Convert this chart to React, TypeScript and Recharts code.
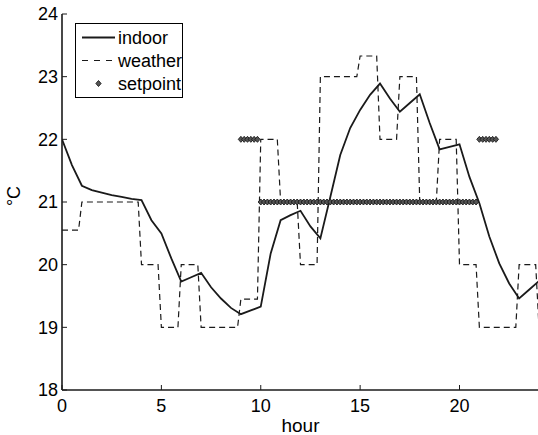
import {
  ComposedChart,
  Line,
  Scatter,
  XAxis,
  YAxis,
  Legend,
} from 'recharts';

// indoor temperature, read every half hour
const indoorHours = [
  0, 0.5, 1, 1.5, 2, 2.5, 3, 3.5, 4, 4.5, 5, 5.5, 6, 6.5, 7, 7.5, 8, 8.5, 9,
  9.5, 10, 10.5, 11, 11.5, 12, 12.5, 13, 13.5, 14, 14.5, 15, 15.5, 16, 16.5,
  17, 17.5, 18, 18.5, 19, 19.5, 20, 20.5, 21, 21.5, 22, 22.5, 23, 23.5, 24,
];
const indoorTemp = [
  22.0, 21.59, 21.26, 21.19, 21.15, 21.11, 21.08, 21.05, 21.03, 20.71, 20.5,
  20.1, 19.73, 19.8, 19.87, 19.64, 19.46, 19.31, 19.21, 19.27, 19.33, 20.18,
  20.71, 20.79, 20.86, 20.61, 20.42, 21.08, 21.75, 22.18, 22.47, 22.71, 22.89,
  22.65, 22.44, 22.58, 22.72, 22.26, 21.84, 21.88, 21.92, 21.4, 20.98, 20.45,
  20.02, 19.7, 19.46, 19.6, 19.74,
];

// weather forecast, one value per hour (0..23) and the value at 24
const weatherHourly = [
  20.55, 21, 21, 21, 20, 19, 20, 19, 19, 19.45, 22, 21, 20, 23, 23, 23.33, 22,
  23, 21, 22, 20, 19, 19, 20,
];
const weatherEnd = 19;

// setpoint per hour (null = no setpoint)
const setpointHourly: (number | null)[] = [
  null, null, null, null, null, null, null, null, null, 22, 21, 21, 21, 21, 21,
  21, 21, 21, 21, 21, 21, 22, null, null,
];

const xTicks = [0, 5, 10, 15, 20];
const yTicks = [18, 19, 20, 21, 22, 23, 24];

// samples are taken every 10 minutes
const SAMPLES = 6;

const indoorData = indoorHours.map((t, i) => ({ t, v: indoorTemp[i] }));

const weatherData = [
  ...weatherHourly.flatMap((v, h) => [
    { t: h, v },
    { t: h + (SAMPLES - 1) / SAMPLES, v },
  ]),
  { t: 24, v: weatherEnd },
];

const setpointData = setpointHourly.flatMap((v, h) =>
  v === null
    ? []
    : Array.from({ length: SAMPLES }, (_, j) => ({ t: h + j / SAMPLES, v }))
);

const FONT = '"Liberation Sans", Arial, Helvetica, sans-serif';
const INK = '#1a1a1a';

const Diamond = (props: any) => {
  const { cx, cy } = props;
  return (
    <polygon
      points={`${cx},${cy - 3} ${cx + 2.6},${cy} ${cx},${cy + 3} ${cx - 2.6},${cy}`}
      fill='#555'
      stroke='#1a1a1a'
      strokeWidth={0.9}
    />
  );
};

const legendItems = [
  { name: 'indoor', kind: 'solid' },
  { name: 'weather', kind: 'dashed' },
  { name: 'setpoint', kind: 'diamond' },
];

const LegendBox = () => (
  <div
    style={{
      border: '1px solid #000',
      background: '#fff',
      width: 108,
      height: 75,
      paddingTop: 2,
      boxSizing: 'border-box',
      fontFamily: FONT,
      fontSize: 18,
      color: '#000',
    }}
  >
    {legendItems.map((item) => (
      <div
        key={item.name}
        style={{ display: 'flex', alignItems: 'center', height: 23 }}
      >
        <svg width={42} height={23} style={{ flex: 'none' }}>
          {item.kind === 'solid' && (
            <line x1={6} x2={39} y1={11.5} y2={11.5} stroke={INK} strokeWidth={1.8} />
          )}
          {item.kind === 'dashed' && (
            <line
              x1={6}
              x2={39}
              y1={11.5}
              y2={11.5}
              stroke={INK}
              strokeWidth={1.2}
              strokeDasharray='6 6'
            />
          )}
          {item.kind === 'diamond' && <Diamond cx={22.5} cy={11.5} />}
        </svg>
        <span style={{ lineHeight: '20px', whiteSpace: 'nowrap' }}>{item.name}</span>
      </div>
    ))}
  </div>
);

const tickStyle = { fontSize: 18, fill: '#000', fontFamily: FONT };
const axisLine = { stroke: INK, strokeWidth: 1.6 };
const tickLine = { stroke: INK, strokeWidth: 1 };

const YLabel = (props: any) => {
  const vb = props.viewBox || { x: 0, y: 14, width: 62, height: 376 };
  const x = vb.x + 20;
  const y = vb.y + vb.height / 2 - 6;
  return (
    <text
      x={x}
      y={y}
      transform={`rotate(-90 ${x} ${y})`}
      textAnchor='middle'
      fontSize={18}
      fontFamily={FONT}
      fill='#000'
    >
      °C
    </text>
  );
};

const App = () => {
  return (
    <div
      style={{
        position: 'absolute',
        left: 0,
        top: 0,
        width: 538,
        height: 435,
        overflow: 'hidden',
        background: '#fff',
      }}
    >
      <ComposedChart
        width={560}
        height={435}
        margin={{ top: 14, right: 21, left: 0, bottom: 0 }}
      >
        <XAxis
          xAxisId='b'
          type='number'
          dataKey='t'
          domain={[0, 24]}
          ticks={xTicks}
          allowDataOverflow
          height={45}
          tickSize={-5}
          tickMargin={14}
          tick={tickStyle}
          axisLine={axisLine}
          tickLine={tickLine}
          label={{
            value: 'hour',
            position: 'insideBottom',
            offset: 3,
            fontSize: 19,
            fill: '#000',
            fontFamily: FONT,
          }}
        />
        <XAxis
          xAxisId='t'
          orientation='top'
          type='number'
          dataKey='t'
          domain={[0, 24]}
          ticks={xTicks}
          allowDataOverflow
          height={0}
          tickSize={-5}
          tick={false}
          axisLine={axisLine}
          tickLine={tickLine}
        />
        <YAxis
          yAxisId='l'
          type='number'
          domain={[18, 24]}
          ticks={yTicks}
          allowDataOverflow
          width={62}
          tickSize={-5}
          tickMargin={9}
          tick={tickStyle}
          axisLine={axisLine}
          tickLine={tickLine}
          label={{ content: YLabel }}
        />
        <YAxis
          yAxisId='r'
          orientation='right'
          type='number'
          domain={[18, 24]}
          ticks={yTicks}
          allowDataOverflow
          width={0}
          tickSize={-5}
          tick={false}
          axisLine={axisLine}
          tickLine={tickLine}
        />
        <Legend
          layout='horizontal'
          verticalAlign='middle'
          align='center'
          wrapperStyle={{ left: 75, top: 23, width: 'auto', height: 'auto' }}
          content={() => <LegendBox />}
        />
        {/* weather is drawn on the top/right axes, which share the same domains */}
        <Line
          xAxisId='t'
          yAxisId='r'
          data={weatherData}
          dataKey='v'
          name='weather'
          type='linear'
          stroke={INK}
          strokeWidth={1.2}
          strokeDasharray='6 4'
          dot={false}
          isAnimationActive={false}
        />
        <Scatter
          xAxisId='b'
          yAxisId='l'
          data={setpointData}
          dataKey='v'
          name='setpoint'
          shape={Diamond}
          isAnimationActive={false}
        />
        <Line
          xAxisId='b'
          yAxisId='l'
          data={indoorData}
          dataKey='v'
          name='indoor'
          type='linear'
          stroke={INK}
          strokeWidth={1.8}
          dot={false}
          isAnimationActive={false}
        />
      </ComposedChart>
    </div>
  );
};

export default App;
